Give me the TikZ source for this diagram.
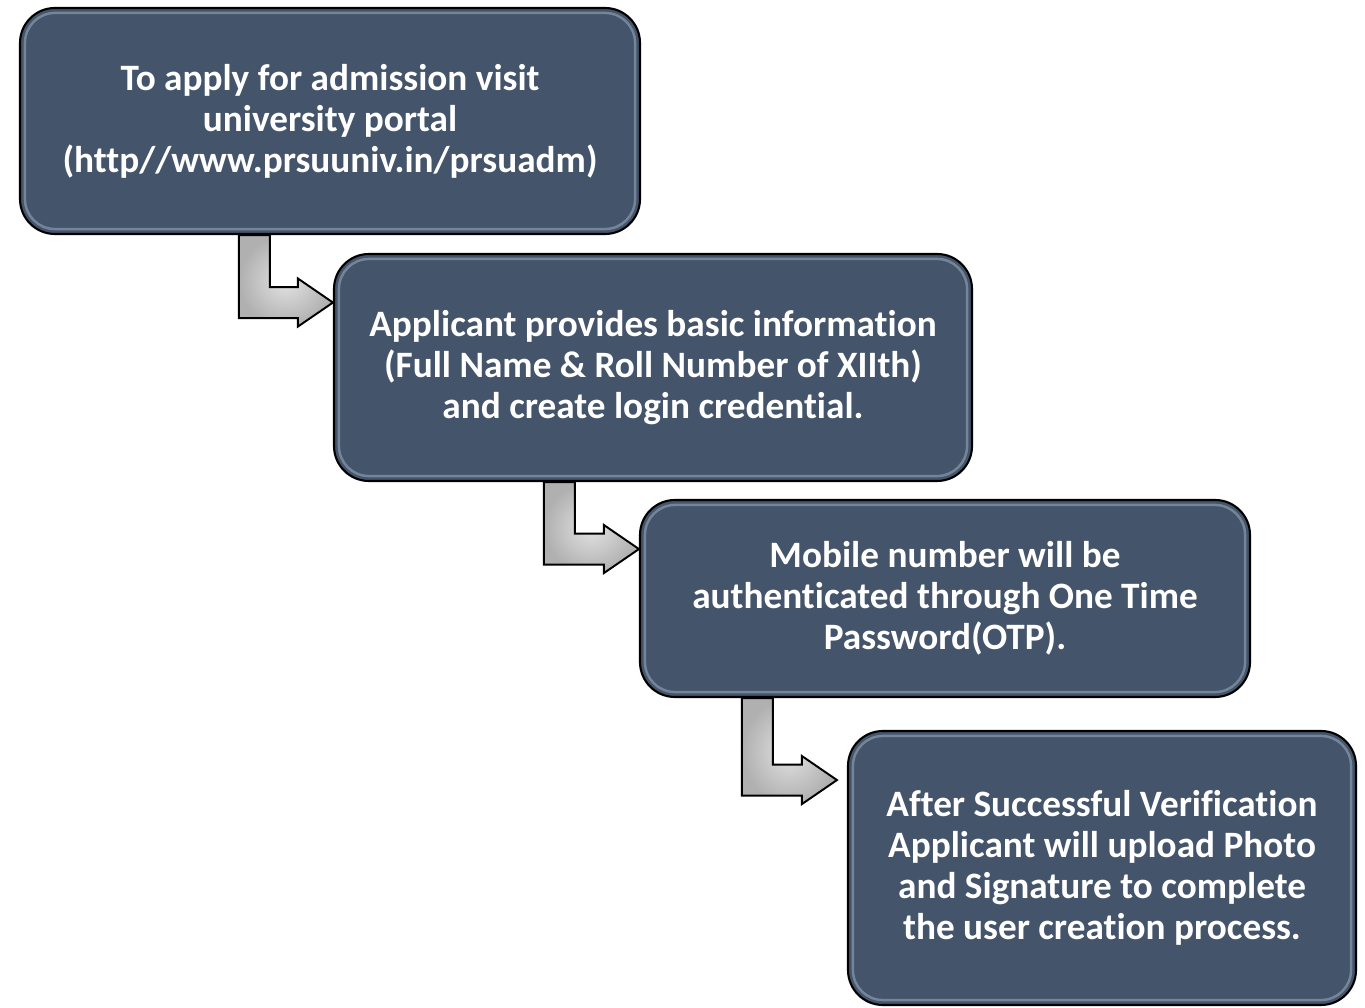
\documentclass[tikz,border=0pt]{standalone}
\usepackage{fontspec}
\setmainfont[Ligatures=NoCommon]{Carlito}
\usepackage{tikz}
\usetikzlibrary{calc}
\definecolor{boxslate}{RGB}{68,84,106}
\definecolor{boxshine}{RGB}{165,180,200}
\tikzset{
	stepbox/.style={
		draw=black, line width=1.2pt,
		fill=boxslate,
		rounded corners=0.7cm,
		text=white,
		font=\bfseries\fontsize{21.2}{23.3}\selectfont,
		align=center,
		inner sep=0pt,
	},
	bevel/.style={
		draw=boxshine, line width=1.4pt, opacity=0.5,
		rounded corners=0.6cm,
	},
	bendarrow/.style={
		draw=black, line width=1.1pt, line join=miter,
		inner color=gray!22, outer color=gray!62,
	},
}

\begin{document}
\begin{tikzpicture}[x=0.02cm,y=0.02cm]
	\useasboundingbox (0,0) rectangle (1365,1007);
	
	% Steps
	\node[stepbox, minimum width=620*0.02cm, minimum height=226*0.02cm] (s1) at (330,886)
		{To apply for admission visit\\university portal\\(http//www.prsuuniv.in/prsuadm)};
	\node[stepbox, minimum width=638*0.02cm, minimum height=227*0.02cm] (s2) at (653,639.5)
		{Applicant provides basic information\\(Full Name \& Roll Number of XIIth)\\and create login credential.};
	\node[stepbox, minimum width=610*0.02cm, minimum height=197*0.02cm] (s3) at (945,408.5)
		{Mobile number will be\\authenticated through One Time\\Password(OTP).};
	\node[stepbox, minimum width=508*0.02cm, minimum height=274*0.02cm] (s4) at (1102,139)
		{After Successful Verification\\Applicant will upload Photo\\and Signature to complete\\the user creation process.};
	
	% Inner shine
	\foreach \n in {s1,s2,s3,s4}
		\draw[bevel] ($(\n.south west)+(6,6)$) rectangle ($(\n.north east)+(-6,-6)$);
	
	% Bent arrows between steps
	\coordinate (a1) at ($(s1.south west)+(220,0)$);
	\coordinate (t1) at ($(s2.west |- a1)+(0,-67.5)$);
	\coordinate (a2) at ($(s2.south west)+(211,0)$);
	\coordinate (t2) at ($(s3.west |- a2)+(0,-67)$);
	\coordinate (a3) at ($(s3.south west)+(103,0)$);
	\coordinate (t3) at ($(s4.west |- a3)+(-10,-82)$);
	\foreach \i in {1,2,3}
		\draw[bendarrow] (a\i) -- ++(31,0) |- ($(t\i)+(-35,15.5)$) -- ++(0,8.5)
			-- (t\i) -- ++(-35,-24) -- ++(0,8.5) -| (a\i) -- cycle;
\end{tikzpicture}
\end{document}
